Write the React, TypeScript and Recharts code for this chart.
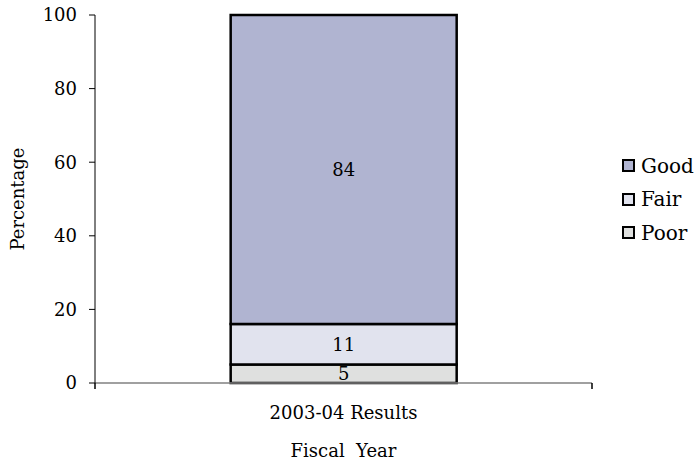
import React from 'react';
import { BarChart, Bar, XAxis, YAxis, Legend, LabelList } from 'recharts';

// values (percent)
const categories = ['2003-04 Results'];
const poorValues = [5];
const fairValues = [11];
const goodValues = [84];
const yTicks = [0, 20, 40, 60, 80, 100];

const series = [
  { key: 'Poor', values: poorValues, color: '#dfe0df' },
  { key: 'Fair', values: fairValues, color: '#e1e3ee' },
  { key: 'Good', values: goodValues, color: '#b0b4d1' },
];

const data = categories.map((name, i) => {
  const row: any = { name };
  series.forEach((s) => {
    row[s.key] = s.values[i];
  });
  return row;
});

const FONT = '"DejaVu Serif", serif';

// category tick: label plus short tick marks at the band edges
const CategoryTick = (props: any) => {
  const { x, y, payload, width } = props;
  const half = payload && payload.offset ? payload.offset : width / 2;
  const axisY = y - 23;
  return (
    <g>
      <line x1={x - half} x2={x - half} y1={axisY} y2={axisY + 6} stroke="#000" strokeWidth={1.5} />
      <line x1={x + half} x2={x + half} y1={axisY} y2={axisY + 6} stroke="#000" strokeWidth={1.5} />
      <text x={x} y={y} dy="0.71em" textAnchor="middle" fill="#000" fontSize={18} fontFamily={FONT}>
        {payload.value}
      </text>
    </g>
  );
};

const renderLegend = () => {
  const items = [...series].reverse();
  return (
    <div style={{ width: 78, fontFamily: FONT, fontSize: 20, color: '#000' }}>
      {items.map((s) => (
        <div key={s.key} style={{ display: 'flex', alignItems: 'center', height: 33.5 }}>
          <span
            style={{
              display: 'inline-block',
              width: 9,
              height: 9,
              background: s.color,
              border: '2px solid #000',
              marginRight: 6,
            }}
          />
          <span>{s.key}</span>
        </div>
      ))}
    </div>
  );
};

export default function App() {
  return (
    <div style={{ position: 'absolute', left: 0, top: 0, width: 700, height: 463, background: '#fff' }}>
      <BarChart
        width={700}
        height={463}
        data={data}
        margin={{ top: 15, right: 30, bottom: 0, left: 0 }}
        barCategoryGap="27.3%"
        style={{ fontFamily: FONT }}
      >
        <XAxis
          dataKey="name"
          height={80}
          stroke="#808080"
          strokeWidth={1.5}
          tickLine={false}
          tickSize={6}
          tickMargin={17}
          tick={<CategoryTick />}
          label={{
            value: 'Fiscal\u00a0\u00a0Year',
            position: 'insideBottom',
            offset: 6,
            fill: '#000',
            fontSize: 18,
            fontFamily: FONT,
          }}
        />
        <YAxis
          width={95}
          domain={[0, 100]}
          ticks={yTicks}
          interval={0}
          stroke="#000"
          tickSize={6}
          tickMargin={12}
          tick={{ fill: '#000', fontSize: 18, fontFamily: FONT }}
          label={{
            value: 'Percentage',
            angle: -90,
            position: 'insideLeft',
            offset: 18,
            fill: '#000',
            fontSize: 18,
            fontFamily: FONT,
            style: { textAnchor: 'middle' },
          }}
        />
        <Legend
          layout="vertical"
          align="right"
          verticalAlign="middle"
          content={renderLegend}
          wrapperStyle={{ left: 622, top: 149, right: 'auto' }}
        />
        {series.map((s) => (
          <Bar
            key={s.key}
            dataKey={s.key}
            stackId="a"
            fill={s.color}
            stroke="#000"
            strokeWidth={2.5}
            isAnimationActive={false}
          >
            <LabelList dataKey={s.key} position="center" fill="#000" fontSize={18} fontFamily={FONT} />
          </Bar>
        ))}
      </BarChart>
    </div>
  );
}
